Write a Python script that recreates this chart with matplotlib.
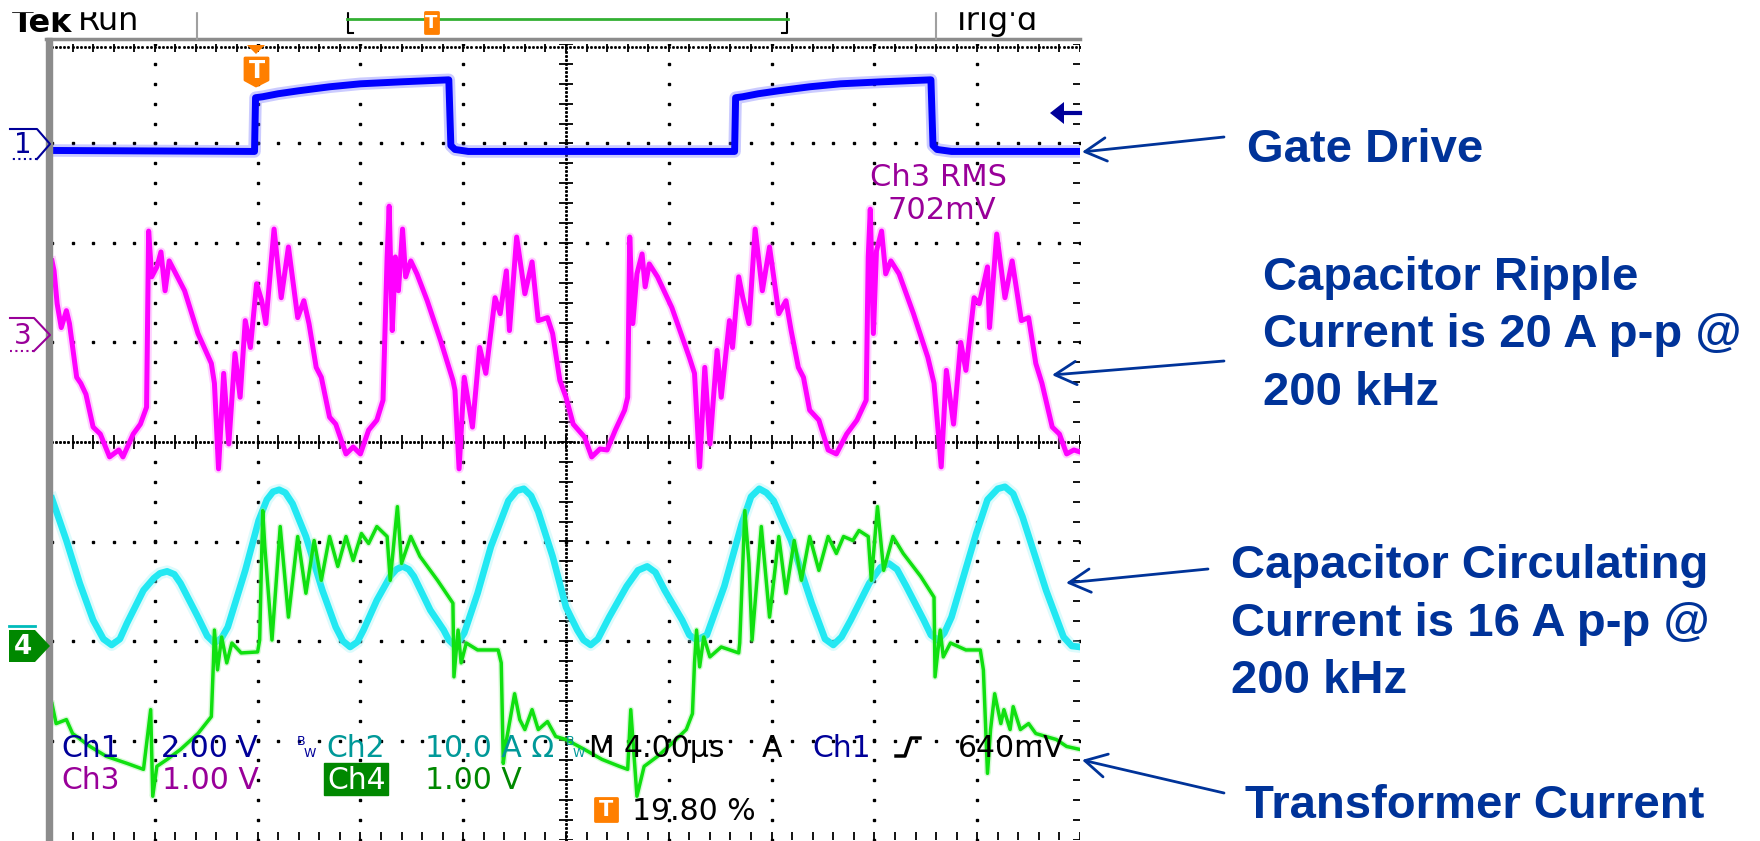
import numpy as np
import matplotlib.pyplot as plt
from matplotlib.patches import Polygon, Rectangle, FancyArrowPatch
from matplotlib.lines import Line2D
from matplotlib.collections import LineCollection

# scope traces, in graticule divisions (x 0..10, y -4..4)
gate_pts = [(0.00, 2.93), (1.97, 2.92), (1.98, 3.46), (2.05, 3.47), (2.20, 3.50), (2.40, 3.53),
            (2.70, 3.57), (3.00, 3.60), (3.40, 3.62), (3.86, 3.64), (3.88, 2.98), (3.92, 2.94),
            (4.05, 2.92), (6.64, 2.92), (6.65, 3.46), (6.72, 3.47), (6.87, 3.50), (7.07, 3.53),
            (7.37, 3.57), (7.67, 3.60), (8.07, 3.62), (8.55, 3.64), (8.57, 2.98), (8.61, 2.94),
            (8.75, 2.92), (10.0, 2.92)]

ripple_pts = [(0.00, 1.82), (0.02, 1.72), (0.05, 1.39), (0.09, 1.15), (0.14, 1.32), (0.17, 1.19),
              (0.24, 0.65), (0.28, 0.59), (0.33, 0.48), (0.40, 0.15), (0.47, 0.08), (0.56, -0.15),
              (0.65, -0.08), (0.69, -0.15), (0.79, 0.08), (0.86, 0.18), (0.92, 0.35), (0.94, 2.12),
              (0.97, 1.66), (1.02, 1.76), (1.06, 1.91), (1.10, 1.52), (1.14, 1.82), (1.19, 1.72),
              (1.29, 1.52), (1.42, 1.09), (1.55, 0.79), (1.58, 0.59), (1.62, -0.27), (1.67, 0.69),
              (1.72, -0.02), (1.78, 0.89), (1.83, 0.45), (1.88, 1.22), (1.93, 0.95), (1.99, 1.59),
              (2.04, 1.42), (2.08, 1.19), (2.16, 2.14), (2.23, 1.45), (2.30, 1.96), (2.39, 1.25),
              (2.45, 1.42), (2.50, 1.19), (2.57, 0.75), (2.62, 0.65), (2.70, 0.25), (2.76, 0.18),
              (2.86, -0.12), (2.93, -0.05), (3.00, -0.12), (3.08, 0.12), (3.16, 0.22), (3.22, 0.42),
              (3.26, 1.86), (3.28, 2.37), (3.31, 1.12), (3.34, 1.86), (3.37, 1.52), (3.41, 2.14),
              (3.44, 1.66), (3.49, 1.82), (3.55, 1.69), (3.65, 1.42), (3.78, 1.02), (3.90, 0.62),
              (3.92, 0.52), (3.96, -0.27), (4.01, 0.65), (4.09, 0.15), (4.16, 0.95), (4.22, 0.69),
              (4.31, 1.45), (4.36, 1.29), (4.42, 1.72), (4.45, 1.12), (4.52, 2.06), (4.60, 1.49),
              (4.67, 1.81), (4.73, 1.22), (4.82, 1.25), (4.87, 1.09), (4.94, 0.62), (5.00, 0.45),
              (5.07, 0.18), (5.18, 0.05), (5.25, -0.15), (5.33, -0.07), (5.40, -0.08), (5.48, 0.12),
              (5.57, 0.32), (5.60, 0.45), (5.62, 2.06), (5.65, 1.19), (5.69, 1.69), (5.74, 1.89),
              (5.77, 1.56), (5.81, 1.79), (5.89, 1.66), (6.03, 1.35), (6.20, 0.85), (6.25, 0.69),
              (6.30, -0.25), (6.35, 0.75), (6.40, -0.02), (6.47, 0.92), (6.51, 0.45), (6.59, 1.22),
              (6.62, 0.95), (6.68, 1.66), (6.72, 1.45), (6.78, 1.19), (6.84, 2.14), (6.91, 1.52),
              (6.98, 1.96), (7.07, 1.29), (7.14, 1.42), (7.19, 1.12), (7.26, 0.75), (7.31, 0.65),
              (7.37, 0.32), (7.46, 0.22), (7.55, -0.08), (7.63, -0.12), (7.73, 0.08), (7.83, 0.22),
              (7.92, 0.42), (7.94, 1.86), (7.96, 2.34), (7.99, 1.09), (8.02, 1.92), (8.07, 2.12),
              (8.11, 1.69), (8.16, 1.82), (8.24, 1.69), (8.38, 1.29), (8.52, 0.85), (8.58, 0.59),
              (8.65, -0.25), (8.70, 0.72), (8.77, 0.18), (8.84, 1.00), (8.89, 0.72), (8.97, 1.45),
              (9.02, 1.39), (9.10, 1.76), (9.12, 1.15), (9.19, 2.09), (9.27, 1.45), (9.34, 1.82),
              (9.43, 1.22), (9.50, 1.25), (9.57, 0.79), (9.63, 0.59), (9.73, 0.15), (9.80, 0.08),
              (9.87, -0.12), (9.94, -0.08), (10.0, -0.10)]

circ_pts = [(0.00, -0.57), (0.14, -0.99), (0.27, -1.42), (0.40, -1.79), (0.50, -1.98), (0.58, -2.04),
            (0.66, -1.98), (0.73, -1.82), (0.89, -1.49), (0.99, -1.37), (1.05, -1.32), (1.12, -1.30),
            (1.19, -1.33), (1.25, -1.42), (1.42, -1.76), (1.51, -1.95), (1.58, -2.02), (1.65, -1.97),
            (1.71, -1.86), (1.88, -1.29), (2.01, -0.79), (2.09, -0.58), (2.15, -0.50), (2.21, -0.48),
            (2.27, -0.51), (2.34, -0.62), (2.47, -0.95), (2.63, -1.49), (2.76, -1.86), (2.83, -2.00),
            (2.90, -2.06), (2.97, -2.01), (3.03, -1.89), (3.16, -1.59), (3.29, -1.35), (3.35, -1.28),
            (3.41, -1.25), (3.47, -1.28), (3.52, -1.35), (3.68, -1.69), (3.81, -1.89), (3.86, -1.99),
            (3.91, -2.04), (3.96, -2.00), (4.01, -1.92), (4.14, -1.52), (4.27, -1.05), (4.44, -0.59),
            (4.52, -0.49), (4.59, -0.47), (4.66, -0.54), (4.73, -0.70), (4.87, -1.15), (5.00, -1.66),
            (5.11, -1.89), (5.17, -1.99), (5.24, -2.04), (5.31, -1.98), (5.42, -1.76), (5.59, -1.45),
            (5.70, -1.29), (5.79, -1.25), (5.87, -1.31), (5.96, -1.49), (6.13, -1.79), (6.20, -1.94),
            (6.27, -1.99), (6.37, -1.94), (6.54, -1.45), (6.71, -0.82), (6.80, -0.55), (6.88, -0.47),
            (6.95, -0.51), (7.02, -0.59), (7.19, -0.99), (7.39, -1.62), (7.52, -1.98), (7.60, -2.04),
            (7.68, -1.96), (7.77, -1.79), (7.95, -1.42), (8.06, -1.26), (8.14, -1.22), (8.22, -1.28),
            (8.31, -1.45), (8.48, -1.79), (8.55, -1.94), (8.62, -1.99), (8.68, -1.92), (8.75, -1.76),
            (8.99, -0.92), (9.10, -0.58), (9.20, -0.47), (9.27, -0.45), (9.35, -0.52), (9.44, -0.75),
            (9.67, -1.49), (9.84, -1.96), (9.92, -2.05), (10.0, -2.06)]

xfmr_pts = [(0.00, -2.63), (0.04, -2.83), (0.14, -2.79), (0.20, -2.93), (0.37, -3.06), (0.53, -3.16),
            (0.73, -3.23), (0.89, -3.29), (0.96, -2.69), (0.98, -3.56), (1.02, -3.26), (1.12, -3.19),
            (1.25, -3.09), (1.42, -2.93), (1.55, -2.76), (1.57, -2.22), (1.58, -1.89), (1.61, -2.29),
            (1.65, -1.96), (1.70, -2.22), (1.75, -2.02), (1.84, -2.12), (2.00, -2.11), (2.02, -1.99),
            (2.05, -0.69), (2.07, -1.05), (2.14, -1.99), (2.22, -0.85), (2.30, -1.76), (2.39, -0.95),
            (2.47, -1.52), (2.55, -0.99), (2.62, -1.39), (2.70, -0.95), (2.78, -1.25), (2.86, -0.95),
            (2.93, -1.19), (3.01, -0.92), (3.08, -1.02), (3.16, -0.85), (3.26, -0.95), (3.29, -1.39),
            (3.36, -0.65), (3.40, -1.22), (3.49, -0.95), (3.58, -1.15), (3.75, -1.39), (3.90, -1.62),
            (3.91, -2.36), (3.95, -1.89), (3.98, -2.22), (4.03, -2.02), (4.14, -2.09), (4.34, -2.09),
            (4.37, -2.22), (4.39, -3.23), (4.41, -3.06), (4.50, -2.53), (4.55, -2.79), (4.60, -2.89),
            (4.67, -2.69), (4.73, -2.89), (4.82, -2.81), (4.90, -2.96), (5.00, -2.99), (5.18, -3.09),
            (5.35, -3.19), (5.52, -3.26), (5.60, -3.29), (5.63, -2.69), (5.69, -3.56), (5.76, -3.26),
            (5.89, -3.16), (6.03, -3.03), (6.17, -2.89), (6.23, -2.73), (6.25, -2.22), (6.27, -1.89),
            (6.30, -2.26), (6.34, -1.96), (6.40, -2.16), (6.51, -2.06), (6.68, -2.12), (6.69, -2.02),
            (6.74, -0.69), (6.78, -1.22), (6.81, -1.99), (6.90, -0.85), (6.98, -1.76), (7.07, -0.95),
            (7.14, -1.52), (7.22, -0.99), (7.29, -1.39), (7.37, -0.95), (7.46, -1.29), (7.55, -0.95),
            (7.63, -1.12), (7.70, -0.95), (7.79, -0.99), (7.85, -0.89), (7.94, -0.95), (7.97, -1.39),
            (8.03, -0.65), (8.09, -1.29), (8.18, -0.95), (8.28, -1.12), (8.45, -1.35), (8.58, -1.56),
            (8.59, -2.36), (8.64, -1.89), (8.67, -2.16), (8.74, -2.02), (8.89, -2.09), (9.03, -2.09),
            (9.06, -2.29), (9.10, -3.33), (9.13, -2.89), (9.17, -2.53), (9.23, -2.83), (9.26, -2.69),
            (9.32, -2.89), (9.35, -2.66), (9.42, -2.89), (9.50, -2.83), (9.57, -2.93), (9.67, -2.96),
            (9.77, -2.99), (9.87, -3.06), (10.0, -3.09)]

gate_t, gate_v = zip(*gate_pts)
ripple_t, ripple_v = zip(*ripple_pts)
circ_t, circ_v = zip(*circ_pts)
xfmr_t, xfmr_v = zip(*xfmr_pts)

callouts = [["Gate Drive"],
            ["Capacitor Ripple", "Current is 20 A p-p @", "200 kHz"],
            ["Capacitor Circulating", "Current is 16 A p-p @", "200 kHz"],
            ["Transformer Current"]]

W, H = 1760, 841
fig = plt.figure(figsize=(W / 100, H / 100), dpi=100)
ax = fig.add_axes([52 / W, 1 - 840 / H, 1028 / W, 796 / H])
ax.set_xlim(0, 10)
ax.set_ylim(-4, 4)
ax.axis('off')


def fp(x, y):
    # screen pixel (top-left origin) -> figure fraction
    return (x / W, 1 - y / H)


def ftext(x, y, s, **kw):
    fig.text(x / W, 1 - y / H, s, **kw)


def fline(xs, ys, **kw):
    fig.add_artist(Line2D([x / W for x in xs], [1 - y / H for y in ys],
                          transform=fig.transFigure, **kw))


def fpoly(pts, **kw):
    fig.add_artist(Polygon([fp(*p) for p in pts], closed=True,
                           transform=fig.transFigure, **kw))


# ---- graticule ----
xs = np.arange(0, 10.001, 0.2)
ys = np.arange(-4, 4.001, 0.2)
dot = dict(ls='none', marker='s', ms=1.9, color='black', zorder=1)
for k in range(1, 10):
    if k != 5:
        ax.plot(np.full(len(ys), k), ys, **dot)
for j in range(-3, 4):
    if j != 0:
        ax.plot(xs, np.full(len(xs), j), **dot)
fine_x = np.arange(0, 10.001, 0.04)
fine_y = np.arange(-4, 4.001, 0.04)
ax.plot(fine_x, np.zeros(len(fine_x)), ls='none', marker='s', ms=1.1, color='black', zorder=1)
ax.plot(np.full(len(fine_y), 5), fine_y, ls='none', marker='s', ms=1.1, color='black', zorder=1)
ticks = [[(x, -0.07), (x, 0.07)] for x in xs] + [[(5 - 0.07, y), (5 + 0.07, y)] for y in ys]
ticks += [[(x, -4), (x, -3.92)] for x in xs] + [[(x, 3.92), (x, 4)] for x in xs]
ticks += [[(9.93, y), (10, y)] for y in ys]
ax.add_collection(LineCollection(ticks, colors='black', linewidths=1.3, zorder=1))
ax.plot(fine_x, np.full(len(fine_x), 3.97), ls='none', marker='s', ms=1.0, color='black', zorder=1)

# screen border and header
fig.add_artist(Rectangle(fp(46, 841), 6 / W, (841 - 38) / H, transform=fig.transFigure,
                         color='#8c8c8c', zorder=1))
fline([46, 1080], [39, 39], color='#8c8c8c', lw=2.5)
fline([197, 197], [8, 39], color='#a0a0a0', lw=1.5)
fline([936, 936], [8, 39], color='#a0a0a0', lw=1.5)
ftext(12, 32, "Tek", fontsize=23, fontweight='bold', color='black', va='baseline')
ftext(78, 30, "Run", fontsize=23, color='black', va='baseline')
ftext(951, 30, "Trig'd", fontsize=23, color='black', va='baseline')
fig.add_artist(Rectangle(fp(0, 11), 1080 / W, 11 / H, transform=fig.transFigure,
                         color='white', zorder=10))
fline([347, 788], [19, 19], color='#33b033', lw=2, zorder=11)
fline([348, 348, 353], [12, 33, 33], color='black', lw=1.5)
fline([787, 787, 782], [12, 33, 33], color='black', lw=1.5)

orange = '#ff7f00'
fpoly([(425, 12), (438, 12), (438, 33), (425, 33)], color=orange, joinstyle='round', lw=2, zorder=12)
ftext(431.5, 23, "T", fontsize=13, fontweight='bold', color='white', ha='center', va='center', zorder=13)
fpoly([(247, 45), (265, 45), (256, 54)], color=orange, lw=0)
fpoly([(245, 58), (268, 58), (268, 80), (256, 86), (245, 80)], color=orange, joinstyle='round', lw=2)
ftext(256.5, 71, "T", fontsize=17, fontweight='bold', color='white', ha='center', va='center')

# trigger level arrow on the right
fpoly([(1050, 113), (1064, 102), (1064, 124)], color='#000099', lw=0)
fline([1062, 1080], [113, 113], color='#000099', lw=3)

# channel ground markers
fline([10, 37, 50, 37], [129, 129, 144, 159], color='#000099', lw=1.5)
fline([37, 10], [159, 159], color='#000099', lw=1.5, ls=':')
ftext(23, 145, "1", fontsize=20, color='#000099', ha='center', va='center')
fline([10, 34, 50, 34], [318, 318, 335, 351], color='#990099', lw=1.5)
fline([34, 10], [351, 351], color='#990099', lw=1.5, ls=':')
ftext(23, 336, "3", fontsize=20, color='#990099', ha='center', va='center')
fline([9, 35], [626, 626], color='#00bbbb', lw=2)
fpoly([(9, 630), (35, 630), (50, 646), (35, 662), (9, 662)], color='#008800', lw=0)
ftext(23, 647, "4", fontsize=19, fontweight='bold', color='white', ha='center', va='center')


# ---- traces ----
def trace(t, v, core, halo, lw, z):
    ax.plot(t, v, color=halo, lw=lw * 1.8, alpha=0.35, solid_joinstyle='round', zorder=z)
    ax.plot(t, v, color=core, lw=lw, solid_joinstyle='round', zorder=z + 0.1)


trace(gate_t, gate_v, '#0000ff', '#6a6aff', 5.0, 3)
trace(ripple_t, ripple_v, '#ff00ff', '#ff7aff', 3.6, 3)
trace(circ_t, circ_v, '#22e8f2', '#9ff4f8', 4.8, 3)
trace(xfmr_t, xfmr_v, '#10e010', '#8cf08c', 2.5, 4)

# ---- on-screen readouts ----
ro = dict(fontsize=21.5, va='baseline')
ftext(870, 186, "Ch3 RMS", fontsize=22, color='#990099', va='baseline')
ftext(887, 219, "702mV", fontsize=22, color='#990099', va='baseline')
ftext(61, 757, "Ch1", color='#000099', **ro)
ftext(161, 757, "2.00 V", color='#000099', **ro)
ftext(297, 745, "B", fontsize=9, color='#000099', va='baseline')
ftext(304, 757, "W", fontsize=9, color='#000099', va='baseline')
ftext(326, 757, "Ch2", color='#009999', **ro)
ftext(425, 757, "10.0 A \u03a9", color='#009999', **ro)
ftext(566, 745, "B", fontsize=9, color='#009999', va='baseline')
ftext(573, 757, "W", fontsize=9, color='#009999', va='baseline')
ftext(588, 757, "M", color='black', **ro)
ftext(624, 757, "4.00\u00b5s", color='black', **ro)
ftext(762, 757, "A", color='black', **ro)
ftext(812, 757, "Ch1", color='#000099', **ro)
fline([896, 905, 911, 920], [756, 756, 738, 738], color='black', lw=2.5)
ftext(958, 757, "640mV", color='black', **ro)
ftext(61, 789, "Ch3", color='#990099', **ro)
ftext(162, 789, "1.00 V", color='#990099', **ro)
fig.add_artist(Rectangle(fp(324, 795), 64 / W, 32 / H, transform=fig.transFigure,
                         color='#008800', zorder=2))
ftext(327, 789, "Ch4", color='white', zorder=3, **ro)
ftext(425, 789, "1.00 V", color='#008800', **ro)
fpoly([(595, 798), (617, 798), (617, 821), (595, 821)], color=orange, joinstyle='round', lw=2)
ftext(606, 810, "T", fontsize=15, fontweight='bold', color='white', ha='center', va='center')
ftext(632, 820, "19.80 %", color='black', **ro)

# ---- callouts on the right ----
navy = '#003399'
cfont = dict(family='Liberation Sans', fontweight='bold', fontsize=34, color=navy, va='baseline')
for lines, (x0, y0) in zip(callouts, [(1247, 162), (1263, 290), (1231, 578), (1245, 818)]):
    for i, s in enumerate(lines):
        ftext(x0, y0 + i * 57.5, s, **cfont)

for (xa, ya), (xb, yb) in [((1224, 137), (1082, 152)), ((1224, 361), (1052, 375)),
                           ((1208, 569), (1066, 583)), ((1224, 793), (1082, 760))]:
    fig.add_artist(FancyArrowPatch(fp(xa, ya), fp(xb, yb), transform=fig.transFigure,
                                   arrowstyle='->,head_length=0.55,head_width=0.3',
                                   mutation_scale=28, lw=2, color=navy,
                                   shrinkA=0, shrinkB=0, zorder=5))

fig.savefig("out.png", dpi=100, facecolor='white')
